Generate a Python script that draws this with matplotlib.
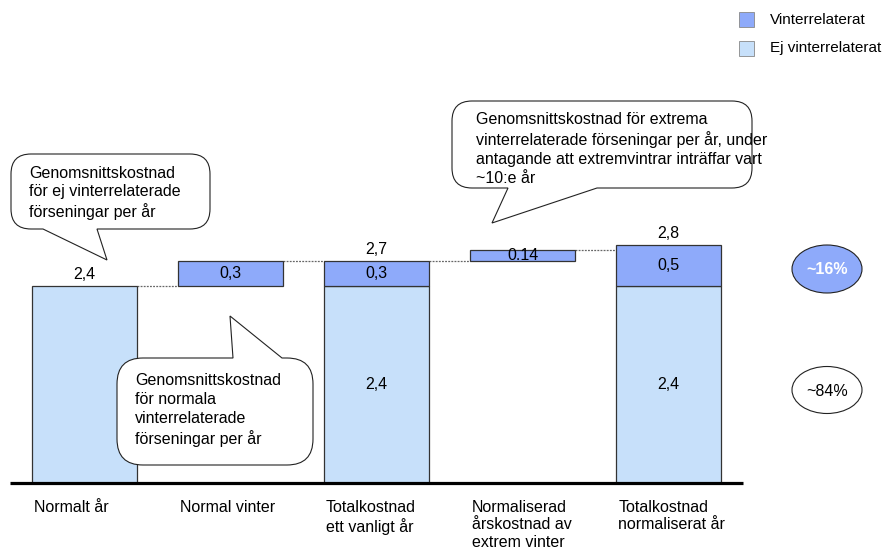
import matplotlib
matplotlib.use("Agg")
import matplotlib.pyplot as plt
from matplotlib.path import Path
from matplotlib.patches import PathPatch, Ellipse, Rectangle

plt.rcParams['font.family'] = ['Liberation Sans', 'DejaVu Sans']

# --- data -------------------------------------------------------------
categories = ["Normalt år", "Normal vinter", "Totalkostnad\nett vanligt år",
              "Normaliserad\nårskostnad av\nextrem vinter",
              "Totalkostnad\nnormaliserat år"]
ej_vinter = [2.4, 0.0, 2.4, 0.0, 2.4]          # not winter related
vinter = [0.0, 0.3, 0.3, 0.14, 0.5]            # winter related
vinter_bottom = [0.0, 2.4, 2.4, 2.7, 2.4]      # start of winter segment
ej_labels = ["", "", "2,4", "", "2,4"]
vinter_labels = ["", "0,3", "0,3", "0.14", "0,5"]
total_labels = ["2,4", "", "2,7", "", "2,8"]
share_labels = ["~16%", "~84%"]
legend_labels = ["Vinterrelaterat", "Ej vinterrelaterat"]

DARK = "#8EAAFA"
LIGHT = "#C7E0FA"
EDGE = "#333333"
FS = 11.5

fig = plt.figure(figsize=(8.85, 5.51), dpi=100)
ax = fig.add_axes([0, 0, 1, 1])
ax.set_xlim(-0.577, 5.481)
ax.set_ylim(-0.828, 5.883)
ax.axis("off")

W = 0.719
x = list(range(len(categories)))

# stacked / floating bars
for i in x:
    if ej_vinter[i] > 0:
        ax.bar(i, ej_vinter[i], width=W, color=LIGHT, edgecolor=EDGE,
               linewidth=0.9, zorder=2)
    if vinter[i] > 0:
        ax.bar(i, vinter[i], bottom=vinter_bottom[i], width=W, color=DARK,
               edgecolor=EDGE, linewidth=0.9, zorder=2)

tops = [max(ej_vinter[i], vinter_bottom[i] + vinter[i]) for i in x]

# dotted connectors between consecutive bars
for i in range(len(x) - 1):
    ax.plot([i + W / 2, i + 1 - W / 2], [tops[i], tops[i]], color="#666666",
            linestyle=(0, (1.5, 1)), linewidth=0.9, zorder=1)

# value labels
for i in x:
    if ej_labels[i]:
        ax.text(i, ej_vinter[i] / 2, ej_labels[i], ha="center", va="center",
                fontsize=FS, zorder=4)
    if vinter_labels[i]:
        ax.text(i, vinter_bottom[i] + vinter[i] / 2, vinter_labels[i],
                ha="center", va="center", fontsize=FS, zorder=4)
    if total_labels[i]:
        ax.annotate(total_labels[i], xy=(i, tops[i]), xytext=(0, 3),
                    textcoords="offset points", ha="center", va="bottom",
                    fontsize=FS, zorder=4)

# category labels under the baseline
for i in x:
    ax.annotate(categories[i], xy=(i - W / 2, 0), xytext=(1.5, -12),
                textcoords="offset points", ha="left", va="top",
                fontsize=FS, linespacing=1.22)

# baseline
ax.axhline(0, xmin=10 / 885, xmax=743 / 885, color="black", linewidth=2.3,
           zorder=5, solid_capstyle="butt")

# --- overlay in pixel coordinates for callouts, legend, shares -------
ov = fig.add_axes([0, 0, 1, 1], zorder=3)
ov.set_xlim(0, 885)
ov.set_ylim(551, 0)
ov.axis("off")
ov.patch.set_alpha(0)


def bubble(x0, y0, x1, y1, r, side, a, b, tip):
    M, L, C = Path.MOVETO, Path.LINETO, Path.CURVE3
    v, c = [(x0 + r, y0)], [M]
    if side == "top":
        v += [(a, y0), tip, (b, y0)]
        c += [L, L, L]
    v += [(x1 - r, y0), (x1, y0), (x1, y0 + r), (x1, y1 - r), (x1, y1),
          (x1 - r, y1)]
    c += [L, C, C, L, C, C]
    if side == "bottom":
        v += [(b, y1), tip, (a, y1)]
        c += [L, L, L]
    v += [(x0 + r, y1), (x0, y1), (x0, y1 - r), (x0, y0 + r), (x0, y0),
          (x0 + r, y0)]
    c += [L, C, C, L, C, C]
    v.append((x0 + r, y0))
    c.append(Path.CLOSEPOLY)
    ov.add_patch(PathPatch(Path(v, c), facecolor="white", edgecolor="#222222",
                           linewidth=0.8, zorder=2))


bubble(11, 154, 210, 229, 20, "bottom", 43, 97, (107, 260))
ov.text(29, 193, "Genomsnittskostnad\nför ej vinterrelaterade\nförseningar per år",
        ha="left", va="center", fontsize=FS, linespacing=1.3, zorder=3)

bubble(117, 358, 313, 465, 26, "top", 233, 282, (230, 316))
ov.text(135, 410, "Genomsnittskostnad\nför normala\nvinterrelaterade\nförseningar per år",
        ha="left", va="center", fontsize=FS, linespacing=1.3, zorder=3)

bubble(452, 101, 752, 188, 20, "bottom", 508, 597, (492, 223))
ov.text(476, 149, "Genomsnittskostnad för extrema\nvinterrelaterade förseningar per år, under\n"
        "antagande att extremvintrar inträffar vart\n~10:e år",
        ha="left", va="center", fontsize=FS, linespacing=1.3, zorder=3)

# shares
ov.add_patch(Ellipse((827, 269), 70, 48, facecolor=DARK, edgecolor="#222222",
                     linewidth=0.8))
ov.text(827, 270, share_labels[0], ha="center", va="center", fontsize=FS,
        color="white", fontweight="bold")
ov.add_patch(Ellipse((827, 390), 70, 47, facecolor="white", edgecolor="#222222",
                     linewidth=0.8))
ov.text(827, 391, share_labels[1], ha="center", va="center", fontsize=FS)

# legend
for (yc, col, lab) in [(19.5, DARK, legend_labels[0]), (48, LIGHT, legend_labels[1])]:
    ov.add_patch(Rectangle((739, yc - 7.5), 15, 15, facecolor=col,
                           edgecolor="#888888", linewidth=0.6))
    ov.text(770, yc, lab, ha="left", va="center", fontsize=11)

fig.savefig("out.png", dpi=100)
